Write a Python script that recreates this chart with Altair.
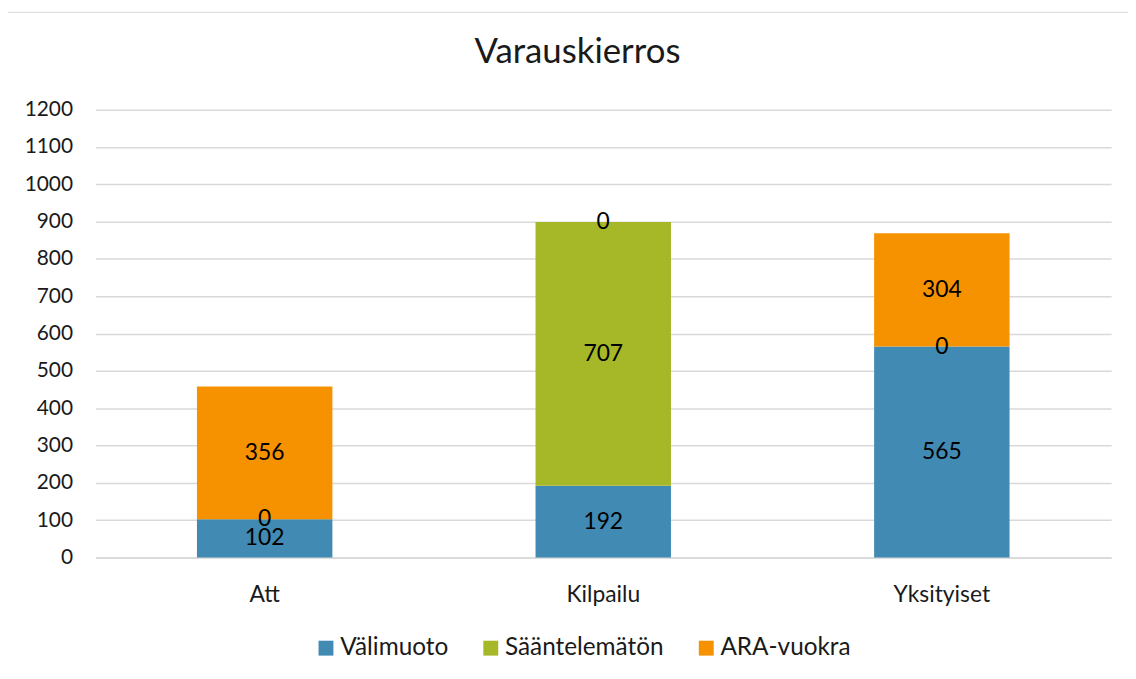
import altair as alt
import pandas as pd

categories = ["Att", "Kilpailu", "Yksityiset"]
series = ["Välimuoto", "Sääntelemätön", "ARA-vuokra"]
colors = ["#418AB3", "#A6B727", "#F69200"]
values = {
    "Välimuoto": [102, 192, 565],
    "Sääntelemätön": [0, 707, 0],
    "ARA-vuokra": [356, 0, 304],
}
y_ticks = list(range(0, 1201, 100))

rows = []
for si, s in enumerate(series):
    for ci, c in enumerate(categories):
        rows.append({"cat": c, "series": s, "order": si, "value": values[s][ci]})
df = pd.DataFrame(rows)

FONT = "Lato"
W, H = 1023, 451
TXT = "#1a1a1a"

x_axis = alt.Axis(labelAngle=0, labelFontSize=23, labelPadding=26,
                  ticks=False, domain=True, domainColor="#d9d9d9",
                  domainWidth=1.5, labelColor=TXT, labelFont=FONT)
y_axis = alt.Axis(values=y_ticks, format="d", labelOverlap=False,
                  grid=True, gridColor="#d9d9d9", gridWidth=1.5,
                  domain=False, ticks=False, labelFontSize=21, labelPadding=23,
                  labelColor=TXT, labelFont=FONT)
x_scale = alt.Scale(paddingInner=0.6, paddingOuter=0.3)
y_scale = alt.Scale(domain=[0, 1200], nice=False)

base = alt.Chart(df)

bars = base.mark_bar().encode(
    x=alt.X("cat:N", sort=categories, title=None, scale=x_scale, axis=x_axis),
    y=alt.Y("value:Q", stack="zero", title=None, scale=y_scale, axis=y_axis),
    color=alt.Color("series:N", sort=series,
                    scale=alt.Scale(domain=series, range=colors),
                    legend=alt.Legend(title=None, orient="none", direction="horizontal",
                                      legendX=220, legendY=530, symbolType="square",
                                      symbolSize=225, symbolStrokeWidth=0,
                                      labelFontSize=24.5, labelFont=FONT, labelColor=TXT,
                                      columnPadding=30, labelOffset=2)),
    order=alt.Order("order:Q"),
)

labels = base.transform_stack(
    stack="value", groupby=["cat"], as_=["v0", "v1"],
    sort=[alt.SortField("order", order="ascending")]
).transform_calculate(
    mid="(datum.v0 + datum.v1) / 2"
).mark_text(fontSize=23, font=FONT, color="#000000", baseline="middle").encode(
    x=alt.X("cat:N", sort=categories, title=None, scale=x_scale, axis=x_axis),
    y=alt.Y("mid:Q", title=None, scale=y_scale, axis=y_axis),
    text=alt.Text("value:Q"),
)

frame = alt.Chart(pd.DataFrame({"a": [0]})).mark_rect(
    fill=None, stroke="#d9d9d9", strokeWidth=1
).encode(
    x=alt.value(-88.5), x2=alt.value(1100), y=alt.value(-98), y2=alt.value(700)
)

chart = alt.layer(frame, bars, labels).properties(
    width=W, height=H,
    title=alt.TitleParams("Varauskierros", fontSize=35, font=FONT, fontWeight="normal",
                          color=TXT, anchor="middle", frame="group", dx=-26,
                          baseline="alphabetic", offset=-87),
    autosize=alt.AutoSizeParams(type="none"),
    padding={"left": 88, "top": 100, "right": 17, "bottom": 110},
).configure_view(stroke=None)

chart.save("out.html", embed_options={"renderer": "svg", "actions": False})
